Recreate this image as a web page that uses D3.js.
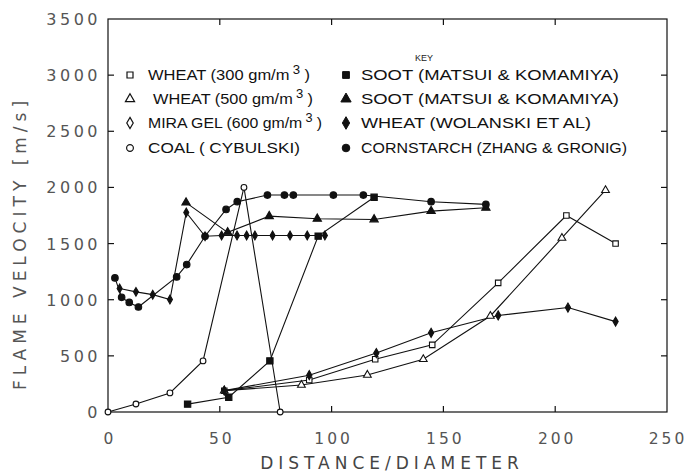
<!DOCTYPE html>
<html>
<head>
<meta charset="utf-8">
<script src="https://cdn.jsdelivr.net/npm/d3@7"></script>
<style>
  body { margin: 0; background: #fff; }
  svg { display: block; }
</style>
</head>
<body>
<div id="chart"></div>
<script>
// flame velocity vs distance/diameter

const xTicks = [0, 50, 100, 150, 200, 250];
const yTicks = [0, 500, 1000, 1500, 2000, 2500, 3000, 3500];

// this study (open markers)
const wheat300 = [[52, 190], [90, 285], [119.5, 470], [145, 598], [174.5, 1150], [205, 1750], [227, 1500]];
const wheat500 = [[52, 190], [86.5, 240], [116, 330], [141, 470], [171, 855], [203, 1550], [222.5, 1975]];
const miragel600 = [[52, 190], [90, 328], [120, 525], [144.5, 705], [174.5, 860], [205.7, 930], [227, 805]];
const coalCybulski = [[0, 0], [12.5, 71], [27.7, 170], [42.5, 455], [60.8, 2000], [77, 0]];

// literature (filled markers)
const sootSquares = [[35.6, 70], [54, 132], [72.4, 455], [94, 1566], [119, 1912]];
const sootTriangles = [[34.9, 1865], [53.5, 1600], [72.1, 1744], [93.6, 1721], [119, 1715], [144.5, 1789], [169, 1819]];
const wheatWolanski = [[5.2, 1100], [12.5, 1070], [20, 1045], [27.7, 1002], [35, 1777], [43.4, 1565],
  [50.8, 1572], [57.7, 1572], [62, 1572], [65.7, 1572], [73.6, 1572], [81.4, 1572], [89.1, 1572], [97, 1572]];
const cornstarch = [[3.1, 1194], [6.1, 1021], [9.5, 976], [13.6, 935], [30.7, 1203], [35.2, 1313], [43.4, 1565],
  [52.8, 1804], [57.8, 1873], [71.3, 1932], [78.9, 1932], [82.9, 1932], [100.8, 1932], [114.2, 1932],
  [144.5, 1873], [169, 1849]];

const leftKey = ["WHEAT (300 gm/m", "WHEAT (500 gm/m", "MIRA GEL (600 gm/m", "COAL ( CYBULSKI)"];
const rightKey = ["SOOT (MATSUI & KOMAMIYA)", "SOOT (MATSUI & KOMAMIYA)", "WHEAT (WOLANSKI ET AL)", "CORNSTARCH (ZHANG & GRONIG)"];

const series = [
  { data: wheat300, sym: d3.symbolSquare, size: 30, filled: false },
  { data: wheat500, sym: d3.symbolTriangle, size: 26, filled: false },
  { data: miragel600, sym: d3.symbolDiamond, size: 24, filled: true },
  { data: coalCybulski, sym: d3.symbolCircle, size: 26, filled: false },
  { data: sootSquares, sym: d3.symbolSquare, size: 40, filled: true },
  { data: sootTriangles, sym: d3.symbolTriangle, size: 30, filled: true },
  { data: wheatWolanski, sym: d3.symbolDiamond, size: 22, filled: true },
  { data: cornstarch, sym: d3.symbolCircle, size: 34, filled: true }
];

const W = 689, H = 472;
const plot = { left: 108, right: 667, top: 19, bottom: 412 };

const svg = d3.select("#chart").append("svg").attr("width", W).attr("height", H);

const x = d3.scaleLinear().domain([0, 250]).range([plot.left, plot.right]);
const y = d3.scaleLinear().domain([0, 3500]).range([plot.bottom, plot.top]);

const tickFont = "'DejaVu Sans', sans-serif";
const tick = 6;

// frame
svg.append("rect")
  .attr("x", plot.left).attr("y", plot.top)
  .attr("width", plot.right - plot.left).attr("height", plot.bottom - plot.top)
  .attr("fill", "none").attr("stroke", "#111").attr("stroke-width", 1.2);

// inward ticks on all four sides
const tg = svg.append("g").attr("stroke", "#111").attr("stroke-width", 1.2);
xTicks.slice(1, -1).forEach(v => {
  tg.append("line").attr("x1", x(v)).attr("x2", x(v)).attr("y1", plot.bottom).attr("y2", plot.bottom - tick);
  tg.append("line").attr("x1", x(v)).attr("x2", x(v)).attr("y1", plot.top).attr("y2", plot.top + tick);
});
yTicks.slice(1, -1).forEach(v => {
  tg.append("line").attr("x1", plot.left).attr("x2", plot.left + tick).attr("y1", y(v)).attr("y2", y(v));
  tg.append("line").attr("x1", plot.right).attr("x2", plot.right - tick).attr("y1", y(v)).attr("y2", y(v));
});

// tick labels (letter-spacing trails, so nudge anchors)
svg.append("g").selectAll("text").data(xTicks).enter().append("text")
  .attr("x", d => Math.min(x(d) + 2, 668)).attr("y", 444)
  .attr("text-anchor", "middle")
  .style("font-family", tickFont).style("font-size", "15.5px")
  .style("letter-spacing", "3px").style("fill", "#555")
  .text(d => d);

svg.append("g").selectAll("text").data(yTicks).enter().append("text")
  .attr("x", 101).attr("y", d => y(d) + 6)
  .attr("text-anchor", "end")
  .style("font-family", tickFont).style("font-size", "16px")
  .style("letter-spacing", "3.5px").style("fill", "#555")
  .text(d => d);

// axis titles
svg.append("text")
  .attr("x", 392).attr("y", 469)
  .attr("text-anchor", "middle")
  .style("font-family", tickFont).style("font-size", "17px")
  .style("letter-spacing", "5px").style("fill", "#444")
  .text("DISTANCE/DIAMETER");

svg.append("text")
  .attr("transform", "translate(26,243) rotate(-90)")
  .attr("text-anchor", "middle")
  .style("font-family", tickFont).style("font-size", "17px")
  .style("letter-spacing", "5px").style("fill", "#555")
  .text("FLAME VELOCITY [m/s]");

// series
const line = d3.line().x(d => x(d[0])).y(d => y(d[1]));
const sg = svg.append("g");
series.forEach(s => {
  sg.append("path").attr("d", line(s.data))
    .attr("fill", "none").attr("stroke", "#111").attr("stroke-width", 1.1);
});
series.forEach(s => {
  sg.selectAll(null).data(s.data).enter().append("path")
    .attr("transform", d => `translate(${x(d[0])},${y(d[1])})`)
    .attr("d", d3.symbol().type(s.sym).size(s.size))
    .attr("fill", s.filled ? "#111" : "#fff")
    .attr("stroke", "#111").attr("stroke-width", 1.1);
});

// key
const keyFont = "'Liberation Sans', Arial, sans-serif";
const key = svg.append("g");
key.append("text")
  .attr("x", 424).attr("y", 61).attr("text-anchor", "middle")
  .style("font-family", keyFont).style("font-size", "9px").style("fill", "#222")
  .text("KEY");

const rowY = [80, 104, 128, 153];
const leftX = [148, 153, 148, 148], leftLen = [162, 160, 174, 152];
const rightLen = [258, 258, 230, 266];

leftKey.forEach((t, i) => {
  const s = series[i];
  key.append("path")
    .attr("transform", `translate(130,${rowY[i] - 5})`)
    .attr("d", d3.symbol().type(s.sym).size(36))
    .attr("fill", "#fff").attr("stroke", "#111").attr("stroke-width", 1.2);
  const tx = key.append("text")
    .attr("x", leftX[i]).attr("y", rowY[i])
    .attr("textLength", leftLen[i]).attr("lengthAdjust", "spacingAndGlyphs")
    .style("font-family", keyFont).style("font-size", "15px").style("fill", "#111");
  tx.append("tspan").text(t);
  if (i < 3) {
    tx.append("tspan").attr("dx", 3).attr("dy", -6).style("font-size", "12px").text("3");
    tx.append("tspan").attr("dx", 4).attr("dy", 6).text(")");
  }
});
rightKey.forEach((t, i) => {
  const s = series[i + 4];
  key.append("path")
    .attr("transform", `translate(346,${rowY[i] - 5})`)
    .attr("d", d3.symbol().type(s.sym).size(46))
    .attr("fill", "#111").attr("stroke", "#111");
  key.append("text")
    .attr("x", 361).attr("y", rowY[i])
    .attr("textLength", rightLen[i]).attr("lengthAdjust", "spacingAndGlyphs")
    .style("font-family", keyFont).style("font-size", "15px").style("fill", "#111")
    .text(t);
});
</script>
</body>
</html>
